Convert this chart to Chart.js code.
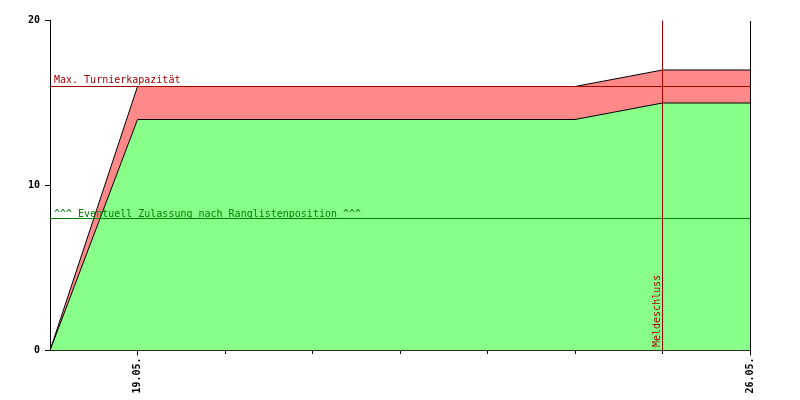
<!DOCTYPE html>
<html>
<head>
<meta charset="utf-8">
<script src="https://cdn.jsdelivr.net/npm/chart.js@4"></script>
<style>
    body { margin: 0; background: #fff; }
    #wrap { width: 800px; height: 400px; }
</style>
</head>
<body>
<div id="wrap"><canvas id="chart" width="800" height="400"></canvas></div>
<script>
// days counted from 18.05.
const days = [0, 1, 6, 7, 8];
const registered = [0, 16, 16, 17, 17];
const admitted = [0, 14, 14, 15, 15];

const tickDays = [0, 1, 2, 3, 4, 5, 6, 7, 8];
const tickLabels = ['', '19.05.', '', '', '', '', '', '', '26.05.'];
const yTicks = [0, 10, 20];

const capacity = 16;
const rankingLimit = 8;
const deadlineDay = 7;

const colors = {
    red: '#ff8888',
    green: '#88ff88',
    darkRed: '#a00000',
    darkGreen: '#008000',
    axis: '#000000'
};

const font = 'DejaVu Sans Mono';
Chart.defaults.font.family = font;
Chart.defaults.font.size = 10;
Chart.defaults.color = '#000';

function points(ys) {
    return days.map((d, i) => ({ x: d, y: ys[i] }));
}

// minor ticks, right border and the annotation texts
const extras = {
    id: 'extras',
    afterDatasetsDraw(chart) {
        const { ctx, chartArea, scales } = chart;
        const x = scales.x, y = scales.y;
        const bottom = Math.round(chartArea.bottom);
        ctx.save();
        ctx.strokeStyle = colors.axis;
        ctx.lineWidth = 1;
        ctx.beginPath();
        ctx.moveTo(Math.round(chartArea.right) + 0.5, Math.round(chartArea.top));
        ctx.lineTo(Math.round(chartArea.right) + 0.5, bottom);
        tickDays.forEach((d, i) => {
            if (i === 0 || tickLabels[i]) return;
            const px = Math.floor(x.getPixelForValue(d)) + 0.5;
            ctx.moveTo(px, bottom);
            ctx.lineTo(px, bottom + 3);
        });
        ctx.stroke();

        ctx.font = '10px ' + font;
        ctx.textBaseline = 'alphabetic';
        ctx.textAlign = 'left';
        ctx.fillStyle = colors.darkRed;
        ctx.fillText('Max. Turnierkapazität', chartArea.left + 4, Math.round(y.getPixelForValue(capacity)) - 3);
        ctx.fillStyle = colors.darkGreen;
        ctx.fillText('^^^ Eventuell Zulassung nach Ranglistenposition ^^^', chartArea.left + 4, Math.round(y.getPixelForValue(rankingLimit)) - 2);

        ctx.fillStyle = colors.darkRed;
        ctx.translate(Math.floor(x.getPixelForValue(deadlineDay)) - 2, bottom - 4);
        ctx.rotate(-Math.PI / 2);
        ctx.fillText('Meldeschluss', 0, 0);
        ctx.restore();
    }
};

new Chart(document.getElementById('chart'), {
    type: 'line',
    data: {
        datasets: [
            {
                label: 'Meldeschluss',
                data: [{ x: deadlineDay, y: 0 }, { x: deadlineDay, y: 20 }],
                borderColor: colors.darkRed,
                borderWidth: 1,
                pointRadius: 0,
                fill: false,
                order: 0
            },
            {
                label: 'Kapazität',
                data: [{ x: 0, y: capacity }, { x: 8, y: capacity }],
                borderColor: colors.darkRed,
                borderWidth: 1,
                pointRadius: 0,
                fill: false,
                order: 0
            },
            {
                label: 'Rangliste',
                data: [{ x: 0, y: rankingLimit }, { x: 8, y: rankingLimit }],
                borderColor: colors.darkGreen,
                borderWidth: 1,
                pointRadius: 0,
                fill: false,
                order: 0
            },
            {
                label: 'Zugelassen',
                data: points(admitted),
                borderColor: '#000',
                borderWidth: 1,
                backgroundColor: colors.green,
                pointRadius: 0,
                fill: 'origin',
                order: 1
            },
            {
                label: 'Gemeldet',
                data: points(registered),
                borderColor: '#000',
                borderWidth: 1,
                backgroundColor: colors.red,
                pointRadius: 0,
                fill: 'origin',
                order: 2
            }
        ]
    },
    options: {
        responsive: false,
        animation: false,
        layout: { padding: { top: 20.5, right: 50, left: 0, bottom: 0 } },
        plugins: {
            legend: { display: false },
            tooltip: { enabled: false }
        },
        scales: {
            x: {
                type: 'linear',
                min: 0,
                max: 8,
                afterBuildTicks: s => { s.ticks = tickDays.map(v => ({ value: v })); },
                afterFit: s => { s.height = 49.5; },
                ticks: {
                    autoSkip: false,
                    minRotation: 90,
                    maxRotation: 90,
                    padding: 2,
                    font: { family: font, size: 10, weight: 'bold' },
                    callback: (v, i) => tickLabels[i]
                },
                grid: {
                    drawOnChartArea: false,
                    tickLength: 5,
                    tickColor: c => (tickLabels[c.index] ? colors.axis : 'rgba(0,0,0,0)')
                },
                border: { color: colors.axis, width: 1 }
            },
            y: {
                min: 0,
                max: 20,
                afterBuildTicks: s => { s.ticks = yTicks.map(v => ({ value: v })); },
                afterFit: s => { s.width = 50; },
                ticks: {
                    padding: 5,
                    font: { family: font, size: 10, weight: 'bold' }
                },
                grid: {
                    drawOnChartArea: false,
                    tickLength: 5,
                    tickColor: colors.axis
                },
                border: { color: colors.axis, width: 1 }
            }
        }
    },
    plugins: [extras]
});
</script>
</body>
</html>
